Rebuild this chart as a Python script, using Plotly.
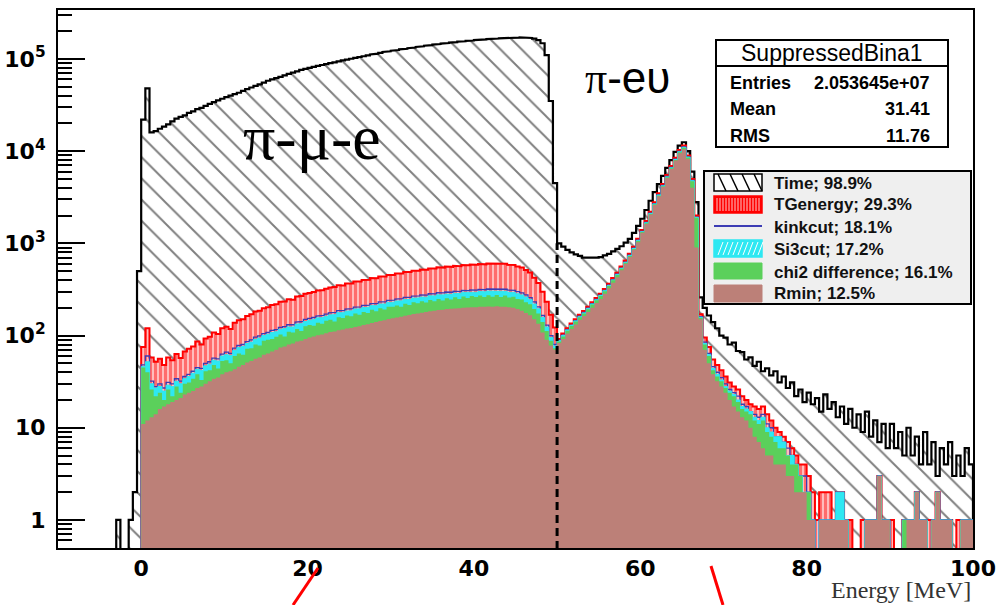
import numpy as np
import plotly.graph_objects as go

# ---------------- data ----------------
BIN_WIDTH = 0.5      # MeV
MAIN_START = 0.0     # low edge of first bin of the main arrays
NEG_START = -10.0    # low edge of first bin of time_neg

# Time histogram below 0 MeV (-10 ... 0)
time_neg = [0, 0, 0, 0, 0, 0, 0, 0, 0, 0, 0, 0, 0, 0, 1, 0, 0, 1, 2, 500]

# 0 ... 100 MeV, 0.5 MeV bins (each row = 10 MeV)
time_counts = [
    22000, 48000, 16000, 16500, 17500, 18500, 19500, 21000, 22500, 23500, 24500, 26000, 27000, 28500, 29500, 31000, 32500, 34000, 35500, 37000,
    38500, 40000, 41500, 43000, 45000, 47000, 49000, 51000, 53000, 55500, 58000, 60000, 62000, 64000, 66500, 69000, 71000, 73500, 76000, 78000,
    80000, 82000, 84000, 86000, 88000, 90000, 92000, 94000, 96500, 98500, 100500, 103000, 105000, 107000, 109500, 112000, 114000, 116500, 119000, 121000,
    123000, 125000, 127000, 129000, 131000, 133000, 135000, 137000, 139000, 141000, 143000, 145000, 147000, 149000, 150500, 152000, 154000, 155500, 157000, 158500,
    160000, 161500, 163000, 164000, 165500, 166500, 167500, 168500, 169500, 170000, 170500, 171000, 170500, 169000, 166000, 160000, 148000, 110000, 35000, 4500,
    1000, 920, 850, 800, 760, 730, 700, 690, 690, 700, 710, 740, 770, 820, 870, 930, 1020, 1120, 1300, 1550,
    1850, 2300, 2900, 3600, 4400, 5400, 6600, 8000, 9800, 11500, 12500, 10000, 6000, 2800, 260, 200, 165, 140, 120, 100,
    95, 80, 84, 68, 66, 55, 58, 47, 52, 41, 44, 37, 41, 31, 36, 27, 31, 22, 26, 19,
    24, 18, 21, 15, 23, 16, 19, 13, 17, 11, 16, 10, 14, 9, 15, 8, 12, 7, 11, 6,
    11, 6, 9, 5, 10, 5, 8, 4, 9, 4, 7, 3, 6, 4, 7, 3, 5, 3, 6, 4,
]
tgenergy_counts = [
    75, 120, 58, 52, 56, 48, 58, 54, 63, 57, 67, 72, 76, 86, 80, 93, 97, 108, 104, 120,
    125, 118, 138, 147, 150, 163, 170, 182, 186, 198, 203, 215, 218, 232, 234, 248, 245, 265, 268, 284,
    290, 296, 308, 310, 322, 332, 336, 352, 350, 366, 368, 385, 386, 400, 402, 420, 418, 438, 436, 455,
    455, 470, 472, 490, 488, 505, 506, 520, 518, 535, 533, 550, 546, 560, 556, 572, 566, 582, 578, 590,
    586, 598, 592, 604, 596, 606, 595, 600, 585, 582, 562, 548, 515, 482, 425, 372, 298, 232, 168, 122,
    92, 105, 120, 135, 150, 168, 185, 205, 230, 255, 285, 320, 365, 420, 480, 560, 650, 770, 920, 1120,
    1400, 1750, 2200, 2800, 3500, 4400, 5500, 6900, 8500, 10300, 11500, 9000, 5000, 2000, 170, 95, 75, 55, 48, 42,
    36, 31, 28, 26, 22, 20, 18, 17, 16, 17, 14, 12, 10, 9, 8, 7, 6, 5, 4, 4,
    3, 2, 1, 2, 2, 2, 1, 2, 2, 1, 1, 0, 0, 1, 1, 1, 1, 3, 1, 1,
    1, 0, 0, 1, 1, 1, 2, 1, 1, 1, 1, 2, 1, 1, 1, 0, 1, 1, 1, 1,
]
kinkcut_counts = [
    48, 60, 32, 28, 30, 27, 31, 30, 34, 32, 36, 38, 41, 45, 44, 50, 52, 57, 56, 63,
    66, 64, 73, 78, 80, 86, 90, 96, 99, 105, 108, 114, 116, 123, 125, 131, 131, 140, 142, 150,
    154, 157, 163, 165, 171, 176, 178, 186, 186, 194, 196, 204, 205, 212, 214, 222, 222, 232, 232, 241,
    242, 249, 251, 260, 259, 268, 269, 276, 275, 284, 283, 292, 290, 297, 295, 303, 300, 309, 307, 313,
    311, 317, 314, 320, 316, 321, 316, 318, 311, 309, 299, 291, 276, 258, 232, 205, 165, 130, 100, 80,
    89, 101, 116, 130, 145, 162, 178, 198, 222, 246, 275, 309, 352, 405, 463, 540, 627, 743, 888, 1081,
    1351, 1689, 2123, 2702, 3378, 4246, 5308, 6659, 8203, 9940, 11100, 8690, 4830, 1930, 160, 85, 64, 46, 40, 35,
    30, 26, 24, 22, 18, 17, 15, 14, 13, 14, 11, 10, 8, 8, 7, 6, 5, 4, 3, 3,
    2, 1, 0, 1, 1, 1, 1, 2, 2, 1, 0, 0, 0, 0, 1, 1, 1, 3, 1, 1,
    0, 0, 0, 1, 1, 1, 2, 1, 1, 0, 1, 2, 1, 1, 1, 0, 0, 1, 1, 1,
]
si3cut_counts = [
    46, 52, 30, 27, 28, 25, 29, 28, 32, 30, 34, 36, 39, 43, 42, 47, 49, 54, 53, 60,
    62, 61, 69, 74, 76, 82, 85, 91, 94, 100, 103, 108, 110, 117, 119, 124, 124, 133, 135, 142,
    146, 149, 155, 157, 162, 167, 169, 177, 177, 184, 186, 194, 195, 201, 203, 211, 211, 220, 220, 229,
    230, 237, 238, 247, 246, 255, 256, 262, 261, 270, 269, 277, 276, 282, 280, 288, 285, 294, 292, 297,
    295, 301, 298, 304, 300, 305, 300, 302, 295, 294, 284, 276, 262, 245, 220, 195, 157, 124, 95, 77,
    88, 100, 115, 129, 144, 160, 176, 196, 220, 244, 272, 306, 348, 401, 458, 535, 621, 736, 879, 1070,
    1337, 1672, 2102, 2675, 3344, 4204, 5255, 6592, 8121, 9840, 11000, 8600, 4780, 1910, 158, 82, 62, 44, 38, 33,
    28, 25, 23, 20, 17, 16, 15, 13, 12, 13, 10, 9, 8, 8, 7, 5, 5, 4, 3, 2,
    2, 1, 0, 1, 1, 1, 1, 2, 2, 1, 0, 0, 0, 0, 1, 1, 1, 3, 1, 1,
    0, 0, 0, 1, 1, 1, 2, 1, 1, 0, 1, 2, 1, 1, 1, 0, 0, 1, 1, 1,
]
chi2_counts = [
    45, 40, 26, 22, 24, 20, 26, 22, 28, 24, 30, 31, 34, 38, 33, 41, 42, 48, 44, 53,
    54, 50, 60, 64, 62, 72, 73, 80, 78, 88, 90, 92, 97, 103, 98, 110, 108, 118, 112, 126,
    130, 128, 138, 134, 145, 148, 142, 158, 155, 165, 162, 174, 168, 180, 176, 190, 184, 198, 192, 206,
    205, 212, 206, 222, 214, 230, 224, 236, 228, 243, 236, 250, 240, 254, 246, 260, 250, 265, 256, 268,
    262, 272, 262, 274, 264, 275, 262, 272, 258, 264, 250, 246, 230, 218, 194, 174, 140, 112, 88, 73,
    86, 98, 113, 127, 142, 158, 174, 193, 217, 241, 269, 302, 344, 397, 453, 530, 615, 728, 870, 1060,
    1325, 1655, 2080, 2650, 3310, 4160, 5200, 6530, 8040, 9750, 10900, 8520, 4730, 1890, 156, 80, 60, 42, 36, 32,
    27, 24, 22, 19, 16, 15, 14, 12, 11, 12, 9, 8, 7, 6, 6, 5, 4, 4, 3, 2,
    2, 1, 0, 1, 1, 1, 1, 1, 1, 1, 0, 0, 0, 0, 1, 1, 1, 3, 1, 1,
    0, 0, 0, 1, 1, 1, 2, 1, 1, 0, 1, 2, 1, 1, 1, 0, 0, 1, 1, 1,
]
rmin_counts = [
    11, 12, 13, 14, 16, 17, 18, 19, 20, 21, 23, 24, 25, 27, 28, 30, 32, 34, 35, 38,
    40, 41, 43, 46, 48, 51, 53, 56, 58, 62, 64, 67, 70, 74, 76, 80, 82, 86, 88, 92,
    95, 98, 101, 103, 106, 109, 111, 114, 116, 119, 121, 124, 126, 130, 133, 137, 140, 144, 147, 151,
    154, 157, 160, 164, 167, 171, 174, 177, 180, 184, 186, 189, 191, 194, 195, 197, 198, 200, 201, 203,
    203, 205, 205, 207, 206, 208, 206, 206, 203, 200, 194, 186, 176, 166, 150, 134, 108, 90, 78, 70,
    83, 92, 105, 118, 132, 148, 163, 180, 200, 225, 250, 285, 325, 375, 430, 510, 600, 710, 850, 1030,
    1300, 1620, 2050, 2600, 3250, 4100, 5100, 6400, 7900, 9500, 10500, 8200, 4000, 900, 150, 70, 50, 38, 32, 28,
    24, 20, 17, 15, 13, 12, 10, 8, 7, 6, 5, 5, 4, 4, 4, 3, 3, 2, 2, 2,
    1, 1, 0, 1, 1, 1, 1, 1, 1, 1, 0, 0, 0, 0, 1, 1, 1, 3, 1, 1,
    0, 0, 0, 0, 1, 1, 2, 1, 1, 0, 1, 2, 1, 1, 1, 0, 0, 1, 1, 1,
]

x_tick_vals = [0, 20, 40, 60, 80, 100]
y_tick_vals = [1, 10, 100, 1000, 10000, 100000]
y_tick_text = ["1", "10", "10<sup>2</sup>", "10<sup>3</sup>", "10<sup>4</sup>", "10<sup>5</sup>"]

legend_labels = ["Time; 98.9%", "TGenergy; 29.3%", "kinkcut; 18.1%",
                 "Si3cut; 17.2%", "chi2 difference; 16.1%", "Rmin; 12.5%"]
stats_title = "SuppressedBina1"
stats_rows = [("Entries", "2.053645e+07"), ("Mean", "31.41"), ("RMS", "11.76")]

divider_energy = 50
divider_top = 1000

# ---------------- styling ----------------
C_RED = "#ff0000"
C_BLUE = "#3c3cb4"
C_CYAN = "#2ee8f2"
C_GREEN = "#5bd05b"
C_BROWN = "#bc8078"
FLOOR = 0.05

W, H = 998, 605
L, R, T, B = 58, 25, 10, 57
PW, PH = W - L - R, H - T - B


def px(x):
    return (x - L) / PW


def py(y):
    return (H - B - y) / PH


def step_xy(start, counts):
    c = np.asarray(counts, dtype=float)
    lo = start + BIN_WIDTH * np.arange(len(c))
    hi = lo + BIN_WIDTH
    yv = np.where(c > 0, c, FLOOR)
    xs = np.empty(2 * len(c))
    ys = np.empty(2 * len(c))
    xs[0::2], xs[1::2] = lo, hi
    ys[0::2], ys[1::2] = yv, yv
    xs = np.concatenate([[lo[0]], xs, [hi[-1]]])
    ys = np.concatenate([[FLOOR], ys, [FLOOR]])
    return xs, ys


fig = go.Figure()

# Time (hatched)
tx, ty = step_xy(NEG_START, list(time_neg) + list(time_counts))
fig.add_trace(go.Scatter(x=tx, y=ty, mode="none", fill="toself", fillcolor="white",
                         fillpattern=dict(shape="\\", fgcolor="black", bgcolor="white",
                                          size=15, solidity=0.13),
                         hoverinfo="skip", showlegend=False))
fig.add_trace(go.Scatter(x=tx, y=ty, mode="lines", line=dict(color="black", width=2.2),
                         hoverinfo="skip", showlegend=False))

# TGenergy (red vertical hatch)
rx, ry = step_xy(MAIN_START, tgenergy_counts)
fig.add_trace(go.Scatter(x=rx, y=ry, mode="none", fill="toself", fillcolor="white",
                         fillpattern=dict(shape="|", fgcolor=C_RED, bgcolor="#ffd8d8",
                                          size=5, solidity=0.7),
                         hoverinfo="skip", showlegend=False))
fig.add_trace(go.Scatter(x=rx, y=ry, mode="lines", line=dict(color=C_RED, width=2),
                         hoverinfo="skip", showlegend=False))

# kinkcut (line only)
kx, ky = step_xy(MAIN_START, kinkcut_counts)
fig.add_trace(go.Scatter(x=kx, y=ky, mode="lines", line=dict(color=C_BLUE, width=1.3),
                         hoverinfo="skip", showlegend=False))

# Si3cut
sx, sy = step_xy(MAIN_START, si3cut_counts)
fig.add_trace(go.Scatter(x=sx, y=sy, mode="lines", fill="toself", fillcolor=C_CYAN,
                         line=dict(color=C_CYAN, width=1),
                         hoverinfo="skip", showlegend=False))

# chi2 difference
gx, gy = step_xy(MAIN_START, chi2_counts)
fig.add_trace(go.Scatter(x=gx, y=gy, mode="none", fill="toself", fillcolor=C_GREEN,
                         hoverinfo="skip", showlegend=False))

# Rmin
bx, by = step_xy(MAIN_START, rmin_counts)
fig.add_trace(go.Scatter(x=bx, y=by, mode="none", fill="toself", fillcolor=C_BROWN,
                         hoverinfo="skip", showlegend=False))

# dashed divider at 50 MeV
fig.add_trace(go.Scatter(x=[divider_energy, divider_energy], y=[FLOOR, divider_top],
                         mode="lines", line=dict(color="black", width=3, dash="8px,5px"),
                         hoverinfo="skip", showlegend=False))

shapes = []
annotations = []

# ---- stats box ----
shapes.append(dict(type="rect", xref="paper", yref="paper", x0=px(716), x1=px(948),
                   y0=py(147), y1=py(40), fillcolor="white", line=dict(color="black", width=2)))
shapes.append(dict(type="line", xref="paper", yref="paper", x0=px(716), x1=px(948),
                   y0=py(66), y1=py(66), line=dict(color="black", width=2)))
annotations.append(dict(xref="paper", yref="paper", x=px(832), y=py(53), text=stats_title,
                        showarrow=False, xanchor="center", yanchor="middle",
                        font=dict(family="Liberation Sans", size=23, color="black")))
for (lab, val), yy in zip(stats_rows, [83, 109, 136]):
    annotations.append(dict(xref="paper", yref="paper", x=px(728), y=py(yy), text=lab,
                            showarrow=False, xanchor="left", yanchor="middle",
                            font=dict(family="Liberation Sans", size=18, color="black", weight="bold")))
    annotations.append(dict(xref="paper", yref="paper", x=px(932), y=py(yy), text=val,
                            showarrow=False, xanchor="right", yanchor="middle",
                            font=dict(family="Liberation Sans", size=18, color="black", weight="bold")))

# ---- legend box ----
shapes.append(dict(type="rect", xref="paper", yref="paper", x0=px(704), x1=px(971),
                   y0=py(304), y1=py(171), fillcolor="#efefef", line=dict(color="black", width=2)))
sx0, sx1 = 714, 762
# Time symbol
shapes.append(dict(type="rect", xref="paper", yref="paper", x0=px(sx0), x1=px(sx1),
                   y0=py(191), y1=py(174), fillcolor="white", line=dict(color="black", width=1.5)))
for xs0 in range(718, 762, 12):
    xe = min(xs0 + 8, sx1)
    ye = 174 + (xe - xs0) * 17 / 8
    shapes.append(dict(type="line", xref="paper", yref="paper", x0=px(xs0), y0=py(174),
                       x1=px(xe), y1=py(ye), line=dict(color="black", width=1.5)))
# TGenergy symbol
shapes.append(dict(type="rect", xref="paper", yref="paper", x0=px(sx0), x1=px(sx1),
                   y0=py(213), y1=py(196), fillcolor=C_RED, line=dict(color=C_RED, width=1.5)))
for xv in range(717, 761, 3):
    shapes.append(dict(type="line", xref="paper", yref="paper", x0=px(xv), x1=px(xv),
                       y0=py(211), y1=py(198), line=dict(color="#ffc8c8", width=1)))
# kinkcut symbol
shapes.append(dict(type="line", xref="paper", yref="paper", x0=px(sx0), x1=px(sx1),
                   y0=py(226), y1=py(226), line=dict(color=C_BLUE, width=2)))
# Si3cut symbol
shapes.append(dict(type="rect", xref="paper", yref="paper", x0=px(sx0), x1=px(sx1),
                   y0=py(257), y1=py(240), fillcolor=C_CYAN, line=dict(color=C_CYAN, width=1.5)))
for xs0 in range(718, 760, 5):
    shapes.append(dict(type="line", xref="paper", yref="paper", x0=px(xs0), y0=py(255),
                       x1=px(xs0 + 5), y1=py(242), line=dict(color="white", width=1)))
# chi2 symbol
shapes.append(dict(type="rect", xref="paper", yref="paper", x0=px(sx0), x1=px(sx1),
                   y0=py(279), y1=py(263), fillcolor=C_GREEN, line=dict(color=C_GREEN, width=1)))
# Rmin symbol
shapes.append(dict(type="rect", xref="paper", yref="paper", x0=px(sx0), x1=px(sx1),
                   y0=py(302), y1=py(285), fillcolor=C_BROWN, line=dict(color=C_BROWN, width=1)))
for lab, yy in zip(legend_labels, [183, 204, 227, 249, 272, 294]):
    annotations.append(dict(xref="paper", yref="paper", x=px(772), y=py(yy), text=lab,
                            showarrow=False, xanchor="left", yanchor="middle",
                            font=dict(family="Liberation Sans", size=17, color="#111111", weight="bold")))

# ---- physics labels ----
annotations.append(dict(xref="paper", yref="paper", x=px(312), y=py(137), text="π-μ-e",
                        showarrow=False, xanchor="center", yanchor="middle",
                        font=dict(family="Liberation Serif", size=64, color="black")))
annotations.append(dict(xref="paper", yref="paper", x=px(627), y=py(78),
                        text="<span style='font-family:Liberation Serif'>π</span>-eυ",
                        showarrow=False, xanchor="center", yanchor="middle",
                        font=dict(family="Liberation Sans", size=44, color="black")))

# axis title
annotations.append(dict(xref="paper", yref="paper", x=px(973), y=py(590), text="Energy [MeV]",
                        showarrow=False, xanchor="right", yanchor="middle",
                        font=dict(family="Liberation Serif", size=24, color="#333333")))

# red marker strokes below the axis
shapes.append(dict(type="line", xref="paper", yref="paper", x0=px(318), y0=py(568),
                   x1=px(293), y1=py(605), line=dict(color="red", width=3)))
shapes.append(dict(type="line", xref="paper", yref="paper", x0=px(711), y0=py(566),
                   x1=px(723), y1=py(605), line=dict(color="red", width=3)))

minor_vals = [m * 10 ** k for k in range(-1, 6) for m in range(2, 10) if 0.5 < m * 10 ** k < 3.4e5]

fig.update_layout(
    width=W, height=H,
    margin=dict(l=L, r=R, t=T, b=B, autoexpand=False),
    paper_bgcolor="white", plot_bgcolor="white",
    shapes=shapes, annotations=annotations,
    xaxis=dict(range=[-10, 100], showgrid=False, zeroline=False, automargin=False,
               showline=True, linecolor="black", linewidth=2, mirror=True,
               tickvals=x_tick_vals, ticks="",
               tickfont=dict(family="DejaVu Sans", size=22, color="black", weight="bold"),
               ticklabelstandoff=0),
    yaxis=dict(type="log", range=[-0.304, 5.531], showgrid=False, zeroline=False, automargin=False,
               showline=True, linecolor="black", linewidth=2, mirror=True,
               tickvals=y_tick_vals, ticktext=y_tick_text,
               ticks="inside", ticklen=27, tickwidth=2, tickcolor="black",
               minor=dict(tickvals=minor_vals, ticks="inside", ticklen=14, tickwidth=2,
                          tickcolor="black", showgrid=False),
               tickfont=dict(family="DejaVu Sans", size=22, color="black", weight="bold"),
               ticklabelstandoff=6),
)

fig.write_html("out.html", config={"displayModeBar": False},
               post_script="document.body.style.margin='0';document.body.style.overflow='hidden';")
